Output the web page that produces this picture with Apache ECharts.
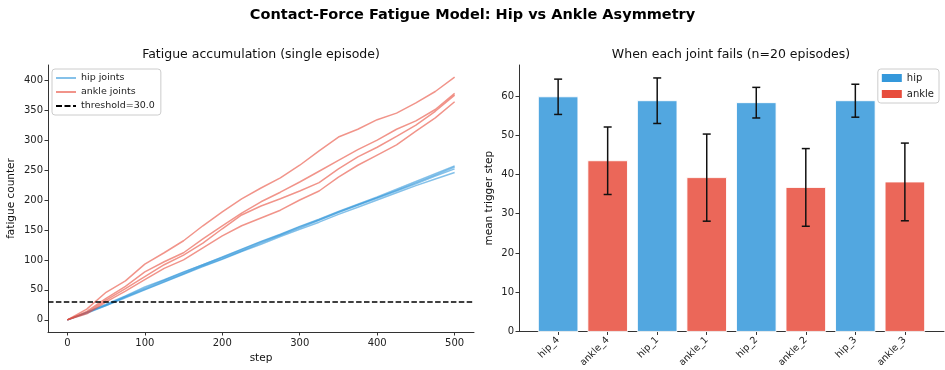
<!DOCTYPE html>
<html>
<head>
<meta charset="utf-8">
<script src="https://cdn.jsdelivr.net/npm/echarts@6/dist/echarts.min.js"></script>
<style>html,body{margin:0;padding:0;background:#fff}#c{width:945px;height:370px}</style>
</head>
<body>
<div id="c"></div>
<script>
// ---- data ----
const steps = [0,25,50,75,100,125,150,175,200,225,250,275,300,325,350,375,400,425,450,475,500];
const hipLines = [
  [0,12,25,39,53,66,79,92,105,118,131,143,156,168,181,193,205,218,231,244,257],
  [0,13,26,40,55,67,80,92,104,117,130,142,155,167,180,192,204,216,229,242,255],
  [0,12,24,38,51,64,77,90,102,115,128,141,153,166,179,191,203,215,227,240,252],
  [0,11,24,37,50,63,76,89,101,114,126,139,151,163,176,188,200,212,224,235,246]
];
const ankleLines = [
  [0,18,46,65,93,112,132,157,180,202,220,237,258,282,305,318,334,345,362,381,405],
  [0,14,36,56,80,97,112,135,157,178,197,213,230,248,266,284,300,318,332,351,378],
  [0,12,33,52,72,92,108,128,152,175,190,202,215,229,252,272,288,306,325,348,375],
  [0,10,30,48,67,86,100,120,140,157,170,183,200,215,238,258,275,292,315,337,364]
];
const threshold = 30.0;
const xTicksLeft = [0,100,200,300,400,500];
const yTicksLeft = [0,50,100,150,200,250,300,350,400];

const joints = ['hip_4','ankle_4','hip_1','ankle_1','hip_2','ankle_2','hip_3','ankle_3'];
const meanStep = [59.8,43.5,58.8,39.2,58.3,36.7,58.8,38.1];
const stdStep  = [4.5,8.6,5.8,11.1,3.9,9.9,4.2,9.9];
const yTicksRight = [0,10,20,30,40,50,60];

// ---- chart ----
const FONT = 'DejaVu Sans';
const chart = echarts.init(document.getElementById('c'), null, {renderer:'canvas'});

const series = [];
hipLines.forEach(vals => series.push({
  name:'hip joints', type:'line', xAxisIndex:0, yAxisIndex:0, symbol:'none',
  data: steps.map((s,i)=>[s, vals[i]]),
  lineStyle:{color:'#3498db', width:1.5, opacity:0.6}, itemStyle:{color:'#3498db'},
  emphasis:{disabled:true}, silent:true, z:2
}));
ankleLines.forEach(vals => series.push({
  name:'ankle joints', type:'line', xAxisIndex:0, yAxisIndex:0, symbol:'none',
  data: steps.map((s,i)=>[s, vals[i]]),
  lineStyle:{color:'#e74c3c', width:1.5, opacity:0.6}, itemStyle:{color:'#e74c3c'},
  emphasis:{disabled:true}, silent:true, z:3
}));
series.push({
  name:'threshold=30.0', type:'line', xAxisIndex:0, yAxisIndex:0, symbol:'none', data:[],
  lineStyle:{color:'#000', width:1.5, type:[5.5,2.4]}, itemStyle:{color:'#000'},
  markLine:{silent:true, symbol:'none', label:{show:false},
    lineStyle:{color:'#000', width:1.5, type:[5.5,2.4]},
    data:[{yAxis:threshold}]},
  z:4
});

function barSeries(name, color, fill, kind){
  const data = [];
  joints.forEach((j,i)=>{ if (j.startsWith(kind)) data.push([i, meanStep[i]]); });
  return {
    name, type:'custom', xAxisIndex:1, yAxisIndex:1, data,
    itemStyle:{color},
    renderItem(params, api){
      const x = api.value(0), y = api.value(1);
      const p0 = api.coord([x-0.4, y]);
      const p1 = api.coord([x+0.4, 0]);
      return {type:'rect', shape:{x:p0[0], y:p0[1], width:p1[0]-p0[0], height:p1[1]-p0[1]},
        style:{fill, stroke:'rgba(255,255,255,0.9)', lineWidth:1}};
    },
    silent:true, z:2
  };
}
series.push(barSeries('hip', '#3498db', '#52a7e0', 'hip'));
series.push(barSeries('ankle', '#e74c3c', '#eb6759', 'ankle'));
series.push({
  type:'custom', xAxisIndex:1, yAxisIndex:1,
  data: joints.map((j,i)=>[i, meanStep[i]-stdStep[i], meanStep[i]+stdStep[i]]),
  renderItem(params, api){
    const x = api.value(0);
    const lo = api.coord([x, api.value(1)]);
    const hi = api.coord([x, api.value(2)]);
    const cap = 4;
    const st = {stroke:'#111', lineWidth:1.5};
    return {type:'group', children:[
      {type:'line', shape:{x1:lo[0], y1:lo[1], x2:hi[0], y2:hi[1]}, style:st},
      {type:'line', shape:{x1:lo[0]-cap, y1:lo[1], x2:lo[0]+cap, y2:lo[1]}, style:st},
      {type:'line', shape:{x1:hi[0]-cap, y1:hi[1], x2:hi[0]+cap, y2:hi[1]}, style:st}
    ]};
  },
  silent:true, z:5
});

const axisCommon = {
  axisLine:{show:true, onZero:false, lineStyle:{color:'#333', width:1}},
  axisTick:{show:true, length:3.5, lineStyle:{color:'#333', width:1}},
  splitLine:{show:false},
  axisLabel:{color:'#222', fontSize:10, fontFamily:FONT},
  nameTextStyle:{color:'#111', fontSize:10.5, fontFamily:FONT}
};

const dashIcon = 'path://M0,0h6v2h-6z M8.5,0h6v2h-6z M17,0h3v2h-3z';

const option = {
  animation:false,
  textStyle:{fontFamily:FONT},
  title:{text:'Contact-Force Fatigue Model: Hip vs Ankle Asymmetry', left:'center', top:3,
    textStyle:{fontSize:14.5, fontWeight:'bold', color:'#000', fontFamily:FONT}},
  graphic:[
    {type:'text', x:261, y:48, style:{text:'Fatigue accumulation (single episode)', textAlign:'center', fontSize:12.5, fill:'#111', fontFamily:FONT}},
    {type:'text', x:731, y:48, style:{text:'When each joint fails (n=20 episodes)', textAlign:'center', fontSize:12.5, fill:'#111', fontFamily:FONT}}
  ],
  legend:[
    {data:[
        {name:'hip joints', icon:'rect', itemStyle:{color:'rgba(52,152,219,0.6)', opacity:1}},
        {name:'ankle joints', icon:'rect', itemStyle:{color:'rgba(231,76,60,0.6)', opacity:1}},
        {name:'threshold=30.0', icon:dashIcon, itemStyle:{color:'#000', opacity:1}}
      ],
      orient:'vertical', left:52, top:69,
      itemWidth:20, itemHeight:2, itemGap:4, padding:[4,6,4,4], symbolKeepAspect:false,
      borderColor:'#ccc', borderWidth:1, borderRadius:3, backgroundColor:'rgba(255,255,255,0.8)',
      textStyle:{fontSize:9.5, color:'#222', fontFamily:FONT}, selectedMode:false},
    {data:[{name:'hip', icon:'rect'},{name:'ankle', icon:'rect'}], orient:'vertical', right:6, top:69,
      itemWidth:20, itemHeight:8, itemGap:6, padding:[4,5,4,4],
      borderColor:'#ccc', borderWidth:1, borderRadius:3, backgroundColor:'rgba(255,255,255,0.8)',
      textStyle:{fontSize:10, color:'#222', fontFamily:FONT}, selectedMode:false}
  ],
  grid:[
    {left:48, top:65, width:426, height:267},
    {left:519, top:65, width:425, height:267}
  ],
  xAxis:[
    Object.assign({}, axisCommon, {type:'value', gridIndex:0, min:-25, max:525,
      name:'step', nameLocation:'middle', nameGap:21,
      axisTick:Object.assign({}, axisCommon.axisTick, {customValues:xTicksLeft}),
      axisLabel:Object.assign({}, axisCommon.axisLabel, {customValues:xTicksLeft, margin:6})}),
    Object.assign({}, axisCommon, {type:'value', gridIndex:1, min:-0.79, max:7.79,
      axisTick:Object.assign({}, axisCommon.axisTick, {customValues:joints.map((j,i)=>i)}),
      axisLabel:Object.assign({}, axisCommon.axisLabel, {customValues:joints.map((j,i)=>i),
        rotate:45, margin:7, fontSize:9.5, formatter:(v)=>joints[Math.round(v)]})})
  ],
  yAxis:[
    Object.assign({}, axisCommon, {type:'value', gridIndex:0, min:-20.25, max:425.25,
      name:'fatigue counter', nameLocation:'middle', nameGap:31,
      axisTick:Object.assign({}, axisCommon.axisTick, {customValues:yTicksLeft}),
      axisLabel:Object.assign({}, axisCommon.axisLabel, {customValues:yTicksLeft, margin:5})}),
    Object.assign({}, axisCommon, {type:'value', gridIndex:1, min:0, max:67.9,
      name:'mean trigger step', nameLocation:'middle', nameGap:24,
      axisTick:Object.assign({}, axisCommon.axisTick, {customValues:yTicksRight}),
      axisLabel:Object.assign({}, axisCommon.axisLabel, {customValues:yTicksRight, margin:5})})
  ],
  series
};
chart.setOption(option);
</script>
</body>
</html>
